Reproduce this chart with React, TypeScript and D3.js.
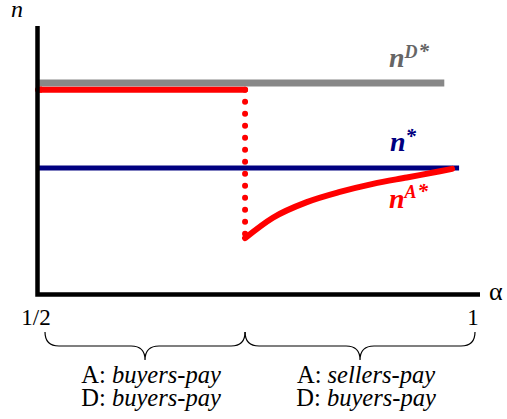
import React from "react";
import * as d3 from "d3";

// Share of the fee (alpha) from 1/2 to 1, and the equilibrium participation levels n.
const alphaTicks = [0.5, 1];
const alphaTickLabels = ["1/2", "1"];
const alphaSwitch = 0.738;

// Flat levels
const nDStar = 78.8;
const nStar = 47.1;
const nABuyersPay = 76.3;
const alphaDEnd = 0.967;
const alphaStarEnd = 0.984;

// n^A* once A switches to sellers-pay
const alphaA = [0.738, 0.77, 0.809, 0.847, 0.885, 0.924, 0.962, 0.976];
const nA = [21.0, 28.6, 34.4, 38.2, 41.2, 43.6, 45.9, 46.8];

// Regime labels under the axis
const regimeA = ["buyers-pay", "sellers-pay"];
const regimeD = ["buyers-pay", "buyers-pay"];

const W = 507;
const H = 419;
const SERIF = "Liberation Serif, Times New Roman, Times, DejaVu Serif, serif";

function bracePath(x1: number, x2: number, y0: number, y1: number, y2: number, r: number) {
  const xm = (x1 + x2) / 2;
  return [
    `M${x1},${y0}`,
    `Q${x1},${y1} ${x1 + r},${y1}`,
    `L${xm - r},${y1}`,
    `Q${xm},${y1} ${xm},${y2}`,
    `Q${xm},${y1} ${xm + r},${y1}`,
    `L${x2 - r},${y1}`,
    `Q${x2},${y1} ${x2},${y0}`,
  ].join(" ");
}

export default function App() {
  const x = d3.scaleLinear().domain([0.5, 1]).range([38, 473]);
  const y = d3.scaleLinear().domain([0, 100]).range([294.5, 26]);

  const x0 = x(0.5);
  const xs = x(alphaSwitch);
  const axisRight = 480;

  const curve = d3
    .line<number>()
    .x((_, i) => x(alphaA[i]))
    .y((d) => y(d))
    .curve(d3.curveMonotoneX);

  const braceLeft = bracePath(45, xs, 332, 346, 360, 14);
  const braceRight = bracePath(xs, 475, 332, 346, 360, 14);

  const labelCenters = [(45 + xs) / 2 + 6, (xs + 475) / 2 + 6];

  return (
    <svg
      width={W}
      height={H}
      style={{ position: "absolute", left: 0, top: 0, background: "#fff", fontFamily: SERIF }}
    >
      {/* gray n^D* level */}
      <line x1={x0} x2={x(alphaDEnd)} y1={y(nDStar)} y2={y(nDStar)} stroke="#888888" strokeWidth={7} />
      {/* navy n* level */}
      <line x1={x0} x2={x(alphaStarEnd)} y1={y(nStar)} y2={y(nStar)} stroke="#000080" strokeWidth={5} />
      {/* n^A* under buyers-pay */}
      <line x1={x0} x2={xs} y1={y(nABuyersPay)} y2={y(nABuyersPay)} stroke="#ff0000" strokeWidth={6} strokeLinecap="round" />
      <line x1={x0} x2={x0 + 4} y1={y(nABuyersPay)} y2={y(nABuyersPay)} stroke="#ff0000" strokeWidth={6} />
      {/* jump at the switch point */}
      <line
        x1={xs}
        x2={xs}
        y1={y(nABuyersPay)}
        y2={y(nA[0])}
        stroke="#ff0000"
        strokeWidth={6}
        strokeDasharray="0 12"
        strokeLinecap="round"
      />
      {/* n^A* under sellers-pay */}
      <path d={curve(nA) || ""} fill="none" stroke="#ff0000" strokeWidth={6} strokeLinecap="round" strokeLinejoin="round" />

      {/* axes */}
      <path
        d={`M${37.5},${y(100)} V${y(0)} H${axisRight}`}
        fill="none"
        stroke="#000"
        strokeWidth={4.5}
        strokeLinejoin="miter"
      />
      <text x={11} y={17} fontSize={24} fontStyle="italic">n</text>
      <text x={489} y={300} fontSize={26}>α</text>

      {alphaTicks.map((t, i) => (
        <text key={t} x={x(t) - (i === 0 ? 2 : 0)} y={325} fontSize={23} textAnchor="middle">
          {alphaTickLabels[i]}
        </text>
      ))}

      {/* series labels */}
      <text x={389} y={67} fill="#666666" fontSize={28} fontWeight="bold" fontStyle="italic">
        n<tspan fontSize={18} dy={-9}>D</tspan>
        <tspan fontSize={21} dx={1}>*</tspan>
      </text>
      <text x={390} y={151} fill="#000080" fontSize={28} fontWeight="bold" fontStyle="italic">
        n<tspan fontSize={21} dy={-8}>*</tspan>
      </text>
      <text x={389} y={208} fill="#ff0000" fontSize={28} fontWeight="bold" fontStyle="italic">
        n<tspan fontSize={18} dy={-10}>A</tspan>
        <tspan fontSize={21} dx={1}>*</tspan>
      </text>

      {/* regime braces */}
      <path d={braceLeft} fill="none" stroke="#000" strokeWidth={1.2} />
      <path d={braceRight} fill="none" stroke="#000" strokeWidth={1.2} />

      {labelCenters.map((cx, i) => (
        <text key={i} fontSize={24.5} textAnchor="middle">
          <tspan x={cx} y={383}>
            A: <tspan fontStyle="italic">{regimeA[i]}</tspan>
          </tspan>
          <tspan x={cx} y={406}>
            D: <tspan fontStyle="italic">{regimeD[i]}</tspan>
          </tspan>
        </text>
      ))}
    </svg>
  );
}
